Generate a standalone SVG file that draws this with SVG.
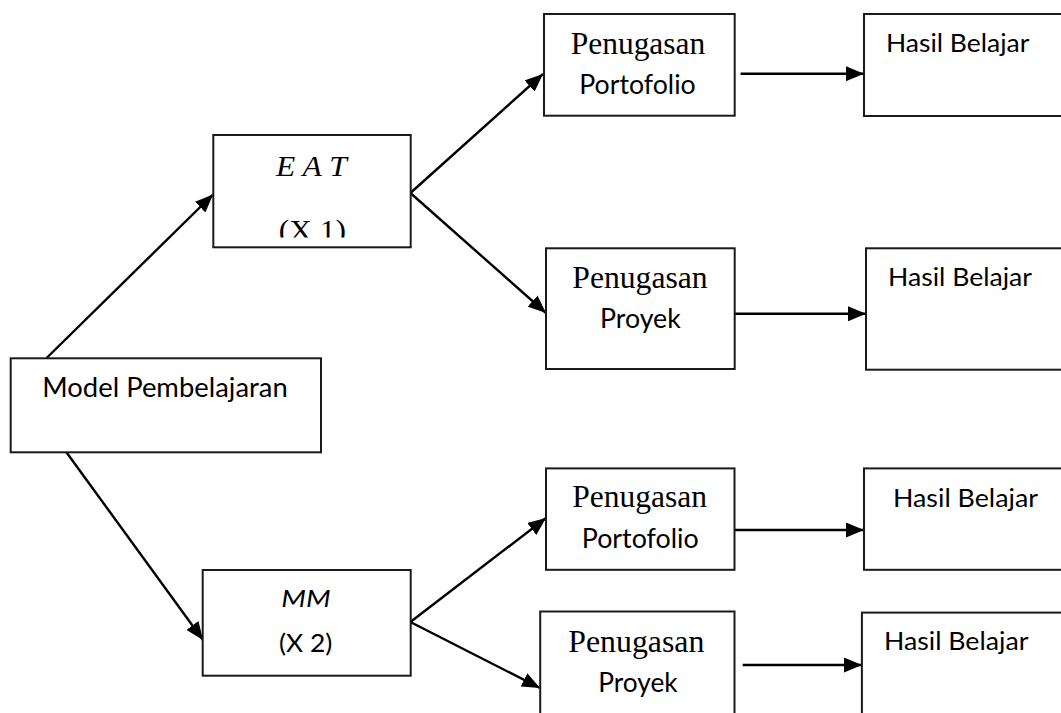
<svg xmlns="http://www.w3.org/2000/svg" width="1061" height="713" viewBox="0 0 1061 713">
  <style>
    .box { fill: #ffffff; stroke: #1a1a1a; stroke-width: 2; }
    .edge { fill: none; stroke: #000000; stroke-width: 2.4; }
    .serif { font-family: "Liberation Serif", "Times New Roman", serif; fill: #000000; }
    .sans { font-family: Lato, "Open Sans", "Liberation Sans", sans-serif; fill: #000000; }
  </style>
  <defs>
    <marker id="arrow" markerUnits="userSpaceOnUse" markerWidth="19" markerHeight="15" refX="18" refY="7.5" orient="auto">
      <path d="M0,0 L18,7.5 L0,15 z" fill="#000000"/>
    </marker>
    <clipPath id="eatClip">
      <rect x="213" y="135" width="198" height="102.5"/>
    </clipPath>
  </defs>
  <rect width="1061" height="713" fill="#ffffff"/>

  <g id="connectors">
    <line class="edge" x1="46.6" y1="358" x2="213" y2="194.5" marker-end="url(#arrow)"/>
    <line class="edge" x1="66.6" y1="452.5" x2="203" y2="640" marker-end="url(#arrow)"/>
    <line class="edge" x1="410.4" y1="193" x2="543" y2="74" marker-end="url(#arrow)"/>
    <line class="edge" x1="410.4" y1="193" x2="546" y2="313" marker-end="url(#arrow)"/>
    <line class="edge" x1="410.4" y1="622" x2="546" y2="518" marker-end="url(#arrow)"/>
    <line class="edge" x1="410.4" y1="622" x2="540" y2="688" marker-end="url(#arrow)"/>
    <line class="edge" x1="740.6" y1="73.7" x2="864" y2="73.7" marker-end="url(#arrow)"/>
    <line class="edge" x1="734.5" y1="313.8" x2="866" y2="313.8" marker-end="url(#arrow)"/>
    <line class="edge" x1="734.5" y1="530" x2="864" y2="530" marker-end="url(#arrow)"/>
    <line class="edge" x1="742.7" y1="665" x2="862" y2="665" marker-end="url(#arrow)"/>
  </g>

  <g id="model">
    <rect class="box" x="10.7" y="358.3" width="310.3" height="94"/>
    <text class="sans" x="42.3" y="396.7" font-size="26" textLength="245.4" lengthAdjust="spacingAndGlyphs">Model Pembelajaran</text>
  </g>

  <g id="eat">
    <rect class="box" x="213.3" y="135" width="197.4" height="112.3"/>
    <text class="serif" x="276" y="175.7" font-size="29" font-style="italic" textLength="70.7" lengthAdjust="spacingAndGlyphs">E A T</text>
    <g clip-path="url(#eatClip)">
      <text class="serif" x="278.7" y="239.5" font-size="30" textLength="67.3" lengthAdjust="spacingAndGlyphs">(X 1)</text>
    </g>
  </g>

  <g id="mm">
    <rect class="box" x="202.7" y="570" width="208" height="105.7"/>
    <text class="sans" x="281.3" y="607.3" font-size="24" font-style="italic" textLength="49.4" lengthAdjust="spacingAndGlyphs">MM</text>
    <text class="sans" x="279" y="652.3" font-size="25" textLength="53.3" lengthAdjust="spacingAndGlyphs">(X 2)</text>
  </g>

  <g id="tugas-portofolio-1">
    <rect class="box" x="544" y="14" width="190.7" height="101.7"/>
    <text class="serif" x="570.7" y="54.3" font-size="32" textLength="134.6" lengthAdjust="spacingAndGlyphs">Penugasan</text>
    <text class="sans" x="579.3" y="94" font-size="26" textLength="116.4" lengthAdjust="spacingAndGlyphs">Portofolio</text>
  </g>

  <g id="tugas-proyek-1">
    <rect class="box" x="546" y="248.3" width="188.7" height="120.7"/>
    <text class="serif" x="572.3" y="288.3" font-size="32" textLength="135.4" lengthAdjust="spacingAndGlyphs">Penugasan</text>
    <text class="sans" x="600" y="327.7" font-size="26" textLength="80.7" lengthAdjust="spacingAndGlyphs">Proyek</text>
  </g>

  <g id="tugas-portofolio-2">
    <rect class="box" x="546" y="468.4" width="188.5" height="101.4"/>
    <text class="serif" x="572.3" y="507" font-size="32" textLength="134.8" lengthAdjust="spacingAndGlyphs">Penugasan</text>
    <text class="sans" x="581.8" y="548" font-size="26" textLength="116.8" lengthAdjust="spacingAndGlyphs">Portofolio</text>
  </g>

  <g id="tugas-proyek-2">
    <rect class="box" x="540.2" y="611.5" width="194.3" height="120"/>
    <text class="serif" x="568.3" y="651.7" font-size="32" textLength="136" lengthAdjust="spacingAndGlyphs">Penugasan</text>
    <text class="sans" x="598.3" y="692.3" font-size="26" textLength="79.4" lengthAdjust="spacingAndGlyphs">Proyek</text>
  </g>

  <g id="hasil-1">
    <rect class="box" x="864" y="14" width="210" height="102"/>
    <text class="sans" x="886" y="52.3" font-size="25" textLength="143.3" lengthAdjust="spacingAndGlyphs">Hasil Belajar</text>
  </g>

  <g id="hasil-2">
    <rect class="box" x="866" y="248.3" width="210" height="121.4"/>
    <text class="sans" x="888" y="285.6" font-size="25" textLength="144" lengthAdjust="spacingAndGlyphs">Hasil Belajar</text>
  </g>

  <g id="hasil-3">
    <rect class="box" x="864" y="468.4" width="210" height="101.4"/>
    <text class="sans" x="893" y="507" font-size="25" textLength="145" lengthAdjust="spacingAndGlyphs">Hasil Belajar</text>
  </g>

  <g id="hasil-4">
    <rect class="box" x="861.9" y="612.6" width="210" height="120"/>
    <text class="sans" x="883.9" y="650.3" font-size="25" textLength="144.6" lengthAdjust="spacingAndGlyphs">Hasil Belajar</text>
  </g>
</svg>
